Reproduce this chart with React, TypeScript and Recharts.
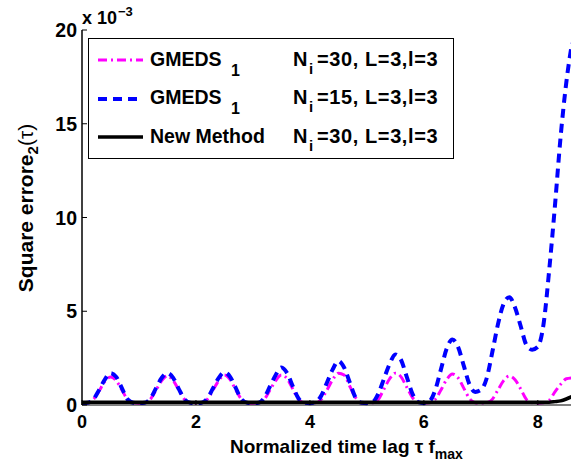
import React from 'react';
import { LineChart, Line, XAxis, YAxis } from 'recharts';

const lags = [
  0, 0.1, 0.2, 0.3, 0.4, 0.5, 0.6, 0.7, 0.8, 0.9,
  1.0, 1.1, 1.2, 1.3, 1.4, 1.5, 1.6, 1.7, 1.8, 1.9,
  2.0, 2.1, 2.2, 2.3, 2.4, 2.5, 2.6, 2.7, 2.8, 2.9,
  3.0, 3.1, 3.2, 3.3, 3.4, 3.5, 3.6, 3.7, 3.8, 3.9,
  4.0, 4.1, 4.2, 4.3, 4.4, 4.5, 4.6, 4.7, 4.8, 4.9,
  5.0, 5.1, 5.2, 5.3, 5.4, 5.5, 5.6, 5.7, 5.8, 5.9,
  6.0, 6.1, 6.2, 6.3, 6.4, 6.5, 6.6, 6.7, 6.8, 6.9,
  7.0, 7.1, 7.2, 7.3, 7.4, 7.5, 7.6, 7.7, 7.8, 7.9,
  8.0, 8.1, 8.2, 8.3, 8.4, 8.5, 8.6,
];

// GMEDS1, Ni=30 (x 1e-3)
const gmeds30 = [
  0.1, 0.12, 0.3, 0.75, 1.25, 1.5, 1.3, 0.8, 0.3, 0.12,
  0.1, 0.12, 0.3, 0.8, 1.3, 1.55, 1.3, 0.8, 0.3, 0.12,
  0.1, 0.12, 0.3, 0.8, 1.3, 1.6, 1.35, 0.8, 0.3, 0.12,
  0.1, 0.12, 0.3, 0.8, 1.3, 1.6, 1.4, 0.85, 0.3, 0.12,
  0.1, 0.12, 0.3, 0.8, 1.35, 1.7, 1.6, 1.0, 0.4, 0.12,
  0.1, 0.12, 0.3, 0.85, 1.4, 1.7, 1.5, 0.95, 0.4, 0.15,
  0.1, 0.12, 0.3, 0.8, 1.35, 1.65, 1.45, 0.9, 0.35, 0.12,
  0.1, 0.12, 0.3, 0.8, 1.3, 1.55, 1.35, 0.85, 0.3, 0.12,
  0.1, 0.12, 0.25, 0.7, 1.1, 1.4, 1.45,
];

// GMEDS1, Ni=15 (x 1e-3)
const gmeds15 = [
  0.1, 0.12, 0.3, 0.8, 1.35, 1.7, 1.5, 0.9, 0.3, 0.12,
  0.1, 0.12, 0.35, 0.9, 1.45, 1.7, 1.45, 0.85, 0.3, 0.12,
  0.1, 0.12, 0.35, 0.9, 1.45, 1.75, 1.5, 0.9, 0.3, 0.12,
  0.1, 0.12, 0.4, 1.0, 1.6, 2.0, 1.7, 1.0, 0.35, 0.12,
  0.1, 0.15, 0.5, 1.2, 1.9, 2.35, 2.0, 1.2, 0.4, 0.12,
  0.1, 0.15, 0.6, 1.4, 2.2, 2.7, 2.4, 1.5, 0.6, 0.15,
  0.1, 0.2, 0.8, 1.9, 3.0, 3.5, 3.1, 2.1, 1.1, 0.7,
  0.8, 1.4, 2.8, 4.3, 5.4, 5.75, 5.2, 4.2, 3.2, 2.95,
  3.1, 4.3, 7.2, 10.6, 14.3, 17.2, 19.3,
];

// New Method, Ni=30 (x 1e-3)
const newMethod = [
  0.15, 0.15, 0.15, 0.15, 0.15, 0.15, 0.15, 0.15, 0.15, 0.15,
  0.15, 0.15, 0.15, 0.15, 0.15, 0.15, 0.15, 0.15, 0.15, 0.15,
  0.15, 0.15, 0.15, 0.15, 0.15, 0.15, 0.15, 0.15, 0.15, 0.15,
  0.15, 0.15, 0.15, 0.15, 0.15, 0.15, 0.15, 0.15, 0.15, 0.15,
  0.15, 0.15, 0.15, 0.15, 0.15, 0.15, 0.15, 0.15, 0.15, 0.15,
  0.15, 0.15, 0.15, 0.15, 0.15, 0.15, 0.15, 0.15, 0.15, 0.15,
  0.15, 0.15, 0.15, 0.15, 0.15, 0.15, 0.15, 0.15, 0.15, 0.15,
  0.15, 0.15, 0.15, 0.15, 0.15, 0.15, 0.15, 0.15, 0.15, 0.15,
  0.15, 0.15, 0.15, 0.18, 0.22, 0.32, 0.45,
];

const xTicks = [0, 2, 4, 6, 8];
const yTicks = [0, 5, 10, 15, 20];

const data = lags.map((x, i) => ({
  x,
  g30: gmeds30[i],
  g15: gmeds15[i],
  nm: newMethod[i],
}));

const FONT = '"Liberation Sans", Arial, Helvetica, sans-serif';

const BottomTick = (props: any) => {
  const { x, y, payload } = props;
  return (
    <g>
      <line x1={x} y1={y} x2={x} y2={y - 5} stroke="#000" strokeWidth={1} />
      <text x={x} y={y + 23} textAnchor="middle" fontFamily={FONT} fontWeight="bold" fontSize={18} fill="#000">
        {payload.value}
      </text>
    </g>
  );
};

const TopTick = (props: any) => {
  const { x, y } = props;
  return <line x1={x} y1={y} x2={x} y2={y + 5} stroke="#000" strokeWidth={1} />;
};

const LeftTick = (props: any) => {
  const { x, y, payload } = props;
  return (
    <g>
      <line x1={x} y1={y} x2={x + 5} y2={y} stroke="#000" strokeWidth={1} />
      <text x={x - 5} y={y + 7} textAnchor="end" fontFamily={FONT} fontWeight="bold" fontSize={19.5} fill="#000">
        {payload.value}
      </text>
    </g>
  );
};

export default function App() {
  return (
    <div style={{ position: 'absolute', left: 0, top: 0, width: 571, height: 469, overflow: 'hidden', background: '#fff' }}>
      <LineChart
        width={572}
        height={469}
        data={data}
        margin={{ top: 30, right: 0, bottom: 0, left: 0 }}
      >
        <XAxis
          dataKey="x"
          type="number"
          domain={[0, 8.6]}
          ticks={xTicks}
          height={64}
          tickSize={0}
          tickMargin={0}
          tickLine={false}
          tick={<BottomTick />}
          axisLine={{ stroke: '#000', strokeWidth: 1.2 }}
          interval={0}
        />
        <XAxis
          xAxisId="top"
          orientation="top"
          dataKey="x"
          type="number"
          domain={[0, 8.6]}
          ticks={xTicks}
          height={0}
          tickSize={0}
          tickMargin={0}
          tickLine={false}
          tick={<TopTick />}
          axisLine={{ stroke: '#000', strokeWidth: 1.2 }}
          interval={0}
        />
        <YAxis
          type="number"
          domain={[0, 20]}
          ticks={yTicks}
          width={82}
          tickSize={0}
          tickMargin={0}
          tickLine={false}
          tick={<LeftTick />}
          axisLine={{ stroke: '#000', strokeWidth: 1.5 }}
          interval={0}
        />
        <Line
          dataKey="g30"
          type="monotone"
          stroke="#FF00FF"
          strokeWidth={3}
          strokeDasharray="9 4 2 4"
          dot={false}
          isAnimationActive={false}
        />
        <Line
          dataKey="g15"
          type="monotone"
          stroke="#0000FF"
          strokeWidth={4}
          strokeDasharray="9 6"
          dot={false}
          isAnimationActive={false}
        />
        <Line
          dataKey="nm"
          type="monotone"
          stroke="#000000"
          strokeWidth={3.5}
          dot={false}
          isAnimationActive={false}
        />
      </LineChart>
      <svg
        width={571}
        height={469}
        style={{ position: 'absolute', left: 0, top: 0, pointerEvents: 'none' }}
        fontFamily={FONT}
        fontWeight="bold"
      >
        {/* exponent */}
        <text x={82} y={24} fontSize={18} fill="#000">x 10</text>
        <text x={118} y={16} fontSize={13} fill="#000">−3</text>

        {/* y label */}
        <text transform="translate(33,208) rotate(-90)" textAnchor="middle" fontSize={21} fill="#000">
          Square errore<tspan fontSize={15} dy={5}>2</tspan><tspan dy={-5} fontWeight="normal">(τ)</tspan>
        </text>

        {/* x label */}
        <text x={230} y={453} fontSize={19} fill="#000">
          Normalized time lag τ f<tspan fontSize={14} dy={6}>max</tspan>
        </text>

        {/* legend */}
        <rect x={88.5} y={38.5} width={365} height={120} fill="#fff" stroke="#000" strokeWidth={1} />
        <line x1={98} y1={60} x2={143} y2={60} stroke="#FF00FF" strokeWidth={3} strokeDasharray="9 4 2 4" />
        <line x1={98} y1={99} x2={143} y2={99} stroke="#0000FF" strokeWidth={4} strokeDasharray="9 6" />
        <line x1={98} y1={137} x2={143} y2={137} stroke="#000" strokeWidth={3.5} />

        <text x={150} y={66} fontSize={19.5} fill="#000">GMEDS</text>
        <text x={231} y={76} fontSize={16} fill="#000">1</text>
        <text x={293} y={66} fontSize={20} fill="#000">N</text>
        <text x={309} y={74} fontSize={15} fill="#000">i</text>
        <text x={317} y={66} fontSize={20} fill="#000" letterSpacing={0.6}>=30, L=3,l=3</text>

        <text x={150} y={104} fontSize={19.5} fill="#000">GMEDS</text>
        <text x={231} y={114} fontSize={16} fill="#000">1</text>
        <text x={293} y={104} fontSize={20} fill="#000">N</text>
        <text x={309} y={112} fontSize={15} fill="#000">i</text>
        <text x={317} y={104} fontSize={20} fill="#000" letterSpacing={0.6}>=15, L=3,l=3</text>

        <text x={150} y={143} fontSize={19.5} fill="#000">New Method</text>
        <text x={293} y={143} fontSize={20} fill="#000">N</text>
        <text x={309} y={151} fontSize={15} fill="#000">i</text>
        <text x={317} y={143} fontSize={20} fill="#000" letterSpacing={0.6}>=30, L=3,l=3</text>
      </svg>
    </div>
  );
}
